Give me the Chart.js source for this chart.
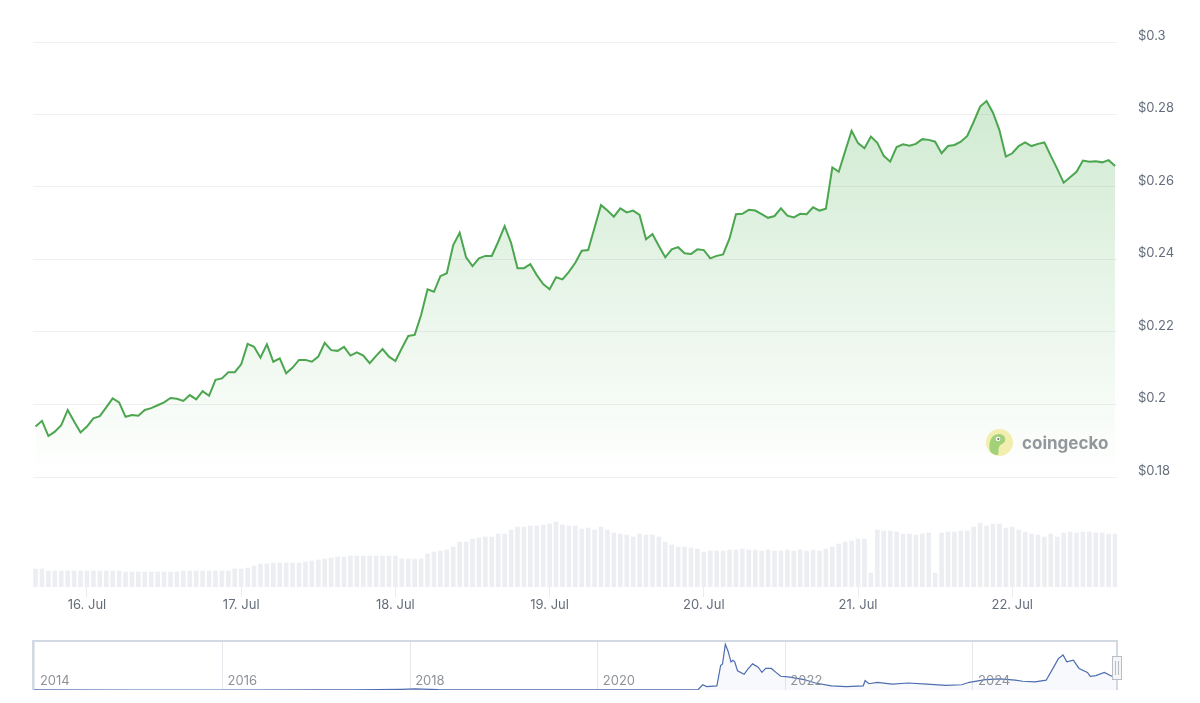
<!DOCTYPE html>
<html>
<head>
<meta charset="UTF-8" />
<title>Price chart</title>
<style type="text/css">
	body { margin: 0; background: #fff; font-family: Inter, "Noto Sans", sans-serif; }
	.wrap { position: relative; width: 1200px; height: 703px; }
	.mainBox { position: absolute; left: 0; top: 0; width: 1200px; height: 620px; }
	.navBox { position: absolute; left: 0; top: 630px; width: 1200px; height: 73px; }
	.brand { position: absolute; left: 986px; top: 429px; display: flex; align-items: center; opacity: 0.8; }
	.brand span { margin-left: 9px; font: 700 17px Inter, sans-serif; color: #7a7e84; }
</style>
</head>
<body>
<div class="wrap">
	<div class="mainBox"><canvas id="mainChart"></canvas></div>
	<div class="navBox"><canvas id="navChart"></canvas></div>
	<div class="brand">
		<svg width="27" height="27" viewBox="0 0 27 27">
			<circle cx="13.5" cy="13.5" r="13.5" fill="#f1ea9c"/>
			<path d="M4 22 C2 14 5 5 13 5 C18 5 20 9 19 12 C18 15 14 15 13 18 C12 21 13 24 12 26 C8 26 5 24 4 22 Z" fill="#8cc65a"/>
			<circle cx="12" cy="10" r="2.3" fill="#fff"/>
			<circle cx="12.3" cy="10" r="1.1" fill="#4a4a4a"/>
		</svg>
		<span>coingecko</span>
	</div>
</div>
<script src="https://cdn.jsdelivr.net/npm/chart.js"></script>
<script>
	// hourly price, 15 Jul 16:00 -> 22 Jul 16:00
	const price = [
		0.1939, 0.1955, 0.1913, 0.1925, 0.1943, 0.1985, 0.1953, 0.1923, 0.1939, 0.1962,
		0.1968, 0.1992, 0.2017, 0.2006, 0.1966, 0.1971, 0.1969, 0.1985, 0.1990, 0.1998,
		0.2006, 0.2018, 0.2016, 0.2010, 0.2026, 0.2014, 0.2037, 0.2024, 0.2068, 0.2072,
		0.2089, 0.2089, 0.2111, 0.2167, 0.2159, 0.2129, 0.2166, 0.2118, 0.2127, 0.2086,
		0.2102, 0.2123, 0.2123, 0.2118, 0.2132, 0.2170, 0.2150, 0.2148, 0.2159, 0.2135,
		0.2144, 0.2135, 0.2114, 0.2134, 0.2153, 0.2132, 0.2120, 0.2155, 0.2189, 0.2192,
		0.2247, 0.2318, 0.2311, 0.2354, 0.2362, 0.2440, 0.2474, 0.2406, 0.2382, 0.2403,
		0.2410, 0.2410, 0.2449, 0.2492, 0.2446, 0.2376, 0.2376, 0.2387, 0.2357, 0.2332,
		0.2318, 0.2351, 0.2345, 0.2366, 0.2391, 0.2424, 0.2426, 0.2488, 0.2550, 0.2535,
		0.2518, 0.2541, 0.2530, 0.2535, 0.2523, 0.2456, 0.2470, 0.2437, 0.2406, 0.2428,
		0.2434, 0.2417, 0.2415, 0.2428, 0.2426, 0.2403, 0.2410, 0.2414, 0.2458, 0.2525,
		0.2526, 0.2537, 0.2535, 0.2525, 0.2515, 0.2520, 0.2541, 0.2521, 0.2516, 0.2526,
		0.2525, 0.2544, 0.2535, 0.2540, 0.2654, 0.2642, 0.2699, 0.2755, 0.2721, 0.2707,
		0.2739, 0.2722, 0.2686, 0.2670, 0.2710, 0.2718, 0.2714, 0.2719, 0.2732, 0.2730,
		0.2725, 0.2693, 0.2713, 0.2716, 0.2725, 0.2741, 0.2780, 0.2822, 0.2837, 0.2805,
		0.2757, 0.2684, 0.2693, 0.2713, 0.2723, 0.2713, 0.2719, 0.2723, 0.2686, 0.2650,
		0.2612, 0.2627, 0.2642, 0.2673, 0.2670, 0.2671, 0.2668, 0.2674, 0.2658
	];

	// hourly volume (million USD, estimated)
	const volume = [
		72, 72, 64, 64, 64, 64, 64, 64, 64, 64,
		64, 64, 64, 64, 60, 60, 60, 60, 60, 60,
		60, 60, 60, 64, 64, 64, 64, 64, 64, 64,
		64, 72, 72, 76, 84, 92, 92, 96, 96, 96,
		96, 96, 100, 104, 108, 112, 116, 120, 120, 124,
		124, 124, 124, 124, 124, 124, 124, 112, 112, 112,
		112, 132, 140, 144, 148, 160, 180, 180, 192, 196,
		200, 200, 212, 212, 228, 240, 240, 244, 244, 248,
		252, 260, 248, 244, 244, 232, 236, 228, 240, 228,
		216, 212, 208, 200, 212, 208, 208, 200, 180, 168,
		160, 160, 156, 152, 140, 144, 144, 144, 148, 148,
		152, 148, 148, 144, 148, 144, 144, 148, 144, 148,
		144, 148, 144, 152, 160, 172, 180, 184, 192, 192,
		56, 228, 224, 224, 220, 212, 212, 208, 212, 216,
		56, 216, 220, 220, 224, 224, 240, 256, 244, 252,
		252, 236, 240, 228, 220, 212, 208, 200, 212, 200,
		216, 220, 216, 220, 220, 216, 216, 212, 212
	];

	const dayTicks = [8, 32, 56, 80, 104, 128, 152];
	const dayLabels = ['16. Jul', '17. Jul', '18. Jul', '19. Jul', '20. Jul', '21. Jul', '22. Jul'];
	const priceTicks = [0.18, 0.2, 0.22, 0.24, 0.26, 0.28, 0.3];

	// navigator: full history (decimal year, price)
	const navDates = [
		2013.98, 2015.0, 2016.0, 2017.0, 2017.4, 2017.9, 2018.05, 2018.3, 2018.6, 2019.0,
		2019.5, 2020.0, 2020.5, 2020.9, 2021.07, 2021.12, 2021.16, 2021.27, 2021.31, 2021.33,
		2021.36, 2021.39, 2021.42, 2021.44, 2021.46, 2021.49, 2021.56, 2021.60, 2021.65, 2021.71,
		2021.75, 2021.79, 2021.85, 2021.90, 2021.95, 2022.03, 2022.20, 2022.32, 2022.49, 2022.65,
		2022.83, 2022.85, 2022.89, 2022.98, 2023.14, 2023.31, 2023.51, 2023.71, 2023.88, 2023.96,
		2024.13, 2024.29, 2024.45, 2024.53, 2024.66, 2024.78, 2024.86, 2024.91, 2024.96, 2025.00,
		2025.07, 2025.13, 2025.22, 2025.25, 2025.31, 2025.40, 2025.48, 2025.535
	];
	const navPrice = [
		0.0005, 0.0002, 0.0002, 0.0005, 0.003, 0.01, 0.016, 0.006, 0.004, 0.002,
		0.004, 0.002, 0.003, 0.004, 0.008, 0.08, 0.053, 0.064, 0.375, 0.40,
		0.70, 0.59, 0.43, 0.455, 0.43, 0.295, 0.24, 0.32, 0.40, 0.35,
		0.27, 0.33, 0.33, 0.27, 0.21, 0.20, 0.16, 0.107, 0.064, 0.053,
		0.064, 0.145, 0.096, 0.118, 0.091, 0.107, 0.091, 0.07, 0.08, 0.118,
		0.16, 0.17, 0.15, 0.134, 0.123, 0.15, 0.35, 0.48, 0.536, 0.43,
		0.455, 0.33, 0.27, 0.21, 0.22, 0.27, 0.21, 0.20
	];
	const navYears = [2014, 2016, 2018, 2020, 2022, 2024];

	const labelColor = '#646d7c';
	const lineGreen = '#4ba64f';

	// price axis runs on down into the volume band
	const priceMin = priceTicks[0] - (priceTicks[priceTicks.length - 1] - priceTicks[0]) * 110 / 435;

	const mainChart = new Chart(document.getElementById('mainChart'), {
		type: 'line',
		data: {
			datasets: [{
				label: 'Price',
				data: price.map((v, i) => ({ x: i, y: v })),
				yAxisID: 'y',
				borderColor: lineGreen,
				borderWidth: 2,
				pointRadius: 0,
				tension: 0,
				fill: 'start',
				backgroundColor: (ctx) => {
					const chart = ctx.chart;
					if (!chart.chartArea) return 'transparent';
					const ys = chart.scales.y;
					const top = ys.getPixelForValue(priceTicks[priceTicks.length - 1]);
					const bottom = ys.getPixelForValue(priceTicks[0]);
					const g = chart.ctx.createLinearGradient(0, top, 0, bottom);
					g.addColorStop(0, 'rgba(76,175,80,0.30)');
					g.addColorStop(1, 'rgba(76,175,80,0)');
					return g;
				}
			}, {
				type: 'bar',
				label: 'Volume',
				data: volume.map((v, i) => ({ x: i, y: v })),
				yAxisID: 'yv',
				backgroundColor: '#eceef1',
				barThickness: 4
			}]
		},
		options: {
			responsive: true,
			maintainAspectRatio: false,
			animation: false,
			layout: { padding: { left: 33, top: 42, right: 0, bottom: 0 } },
			plugins: { legend: { display: false }, tooltip: { enabled: false } },
			scales: {
				x: {
					type: 'linear',
					min: -0.4,
					max: 168.3,
					offset: false,
					afterBuildTicks: (s) => { s.ticks = dayTicks.map(v => ({ value: v })); },
					afterFit: (s) => { s.height = 33; },
					grid: { offset: false, drawOnChartArea: false, drawTicks: true, tickLength: 10, color: '#eaecef' },
					border: { display: false },
					ticks: {
						autoSkip: false,
						maxRotation: 0,
						padding: 0,
						color: labelColor,
						font: { family: 'Inter', size: 13 },
						callback: (v) => dayLabels[dayTicks.indexOf(v)]
					}
				},
				y: {
					position: 'right',
					min: priceMin,
					max: priceTicks[priceTicks.length - 1],
					afterBuildTicks: (s) => { s.ticks = priceTicks.map(v => ({ value: v })); },
					afterFit: (s) => { s.width = 83; },
					grid: { color: '#eef0f2', drawTicks: false },
					border: { display: false },
					ticks: {
						padding: 21,
						labelOffset: -6,
						color: labelColor,
						font: { family: 'Inter', size: 13 },
						callback: (v) => '$' + Number(v.toFixed(2))
					}
				},
				yv: {
					display: false,
					position: 'right',
					min: 0,
					max: 2180
				}
			}
		}
	});

	// navigator frame, year labels and right handle
	const navFrame = {
		id: 'navFrame',
		afterDraw(chart) {
			const { ctx, chartArea: a } = chart;
			const xs = chart.scales.x;
			ctx.save();
			ctx.fillStyle = '#8e9298';
			ctx.font = '13px Inter, sans-serif';
			ctx.textAlign = 'left';
			ctx.textBaseline = 'middle';
			navYears.forEach(yr => {
				ctx.fillText(String(yr), xs.getPixelForValue(yr) + 5, a.bottom - 9);
			});
			ctx.strokeStyle = '#d3d9e2';
			ctx.lineWidth = 2;
			ctx.beginPath();
			ctx.moveTo(a.left, a.bottom);
			ctx.lineTo(a.left, a.top);
			ctx.lineTo(a.right, a.top);
			ctx.lineTo(a.right, a.bottom);
			ctx.stroke();
			// handle
			ctx.fillStyle = '#f4f5f7';
			ctx.strokeStyle = '#b9bec6';
			ctx.lineWidth = 1;
			ctx.fillRect(a.right - 4.5, a.top + 15.5, 9, 23);
			ctx.strokeRect(a.right - 4.5, a.top + 15.5, 9, 23);
			ctx.beginPath();
			ctx.moveTo(a.right - 1.5, a.top + 20); ctx.lineTo(a.right - 1.5, a.top + 34);
			ctx.moveTo(a.right + 1.5, a.top + 20); ctx.lineTo(a.right + 1.5, a.top + 34);
			ctx.stroke();
			ctx.restore();
		}
	};

	const navChart = new Chart(document.getElementById('navChart'), {
		type: 'line',
		data: {
			datasets: [{
				data: navDates.map((d, i) => ({ x: d, y: navPrice[i] })),
				borderColor: '#4d6db0',
				borderWidth: 1.2,
				pointRadius: 0,
				tension: 0,
				fill: 'origin',
				backgroundColor: 'rgba(77,109,176,0.04)'
			}]
		},
		options: {
			responsive: true,
			maintainAspectRatio: false,
			animation: false,
			layout: { padding: { left: 33, right: 83, top: 11, bottom: 0 } },
			plugins: { legend: { display: false }, tooltip: { enabled: false } },
			scales: {
				x: {
					type: 'linear',
					min: navDates[0],
					max: navDates[navDates.length - 1],
					afterBuildTicks: (s) => { s.ticks = navYears.map(v => ({ value: v })); },
					afterFit: (s) => { s.height = 13; },
					grid: { color: '#e4e7eb', drawTicks: false },
					border: { display: false },
					ticks: { display: false }
				},
				y: { display: false, min: 0, max: 0.75 }
			}
		},
		plugins: [navFrame]
	});
</script>
</body>
</html>
